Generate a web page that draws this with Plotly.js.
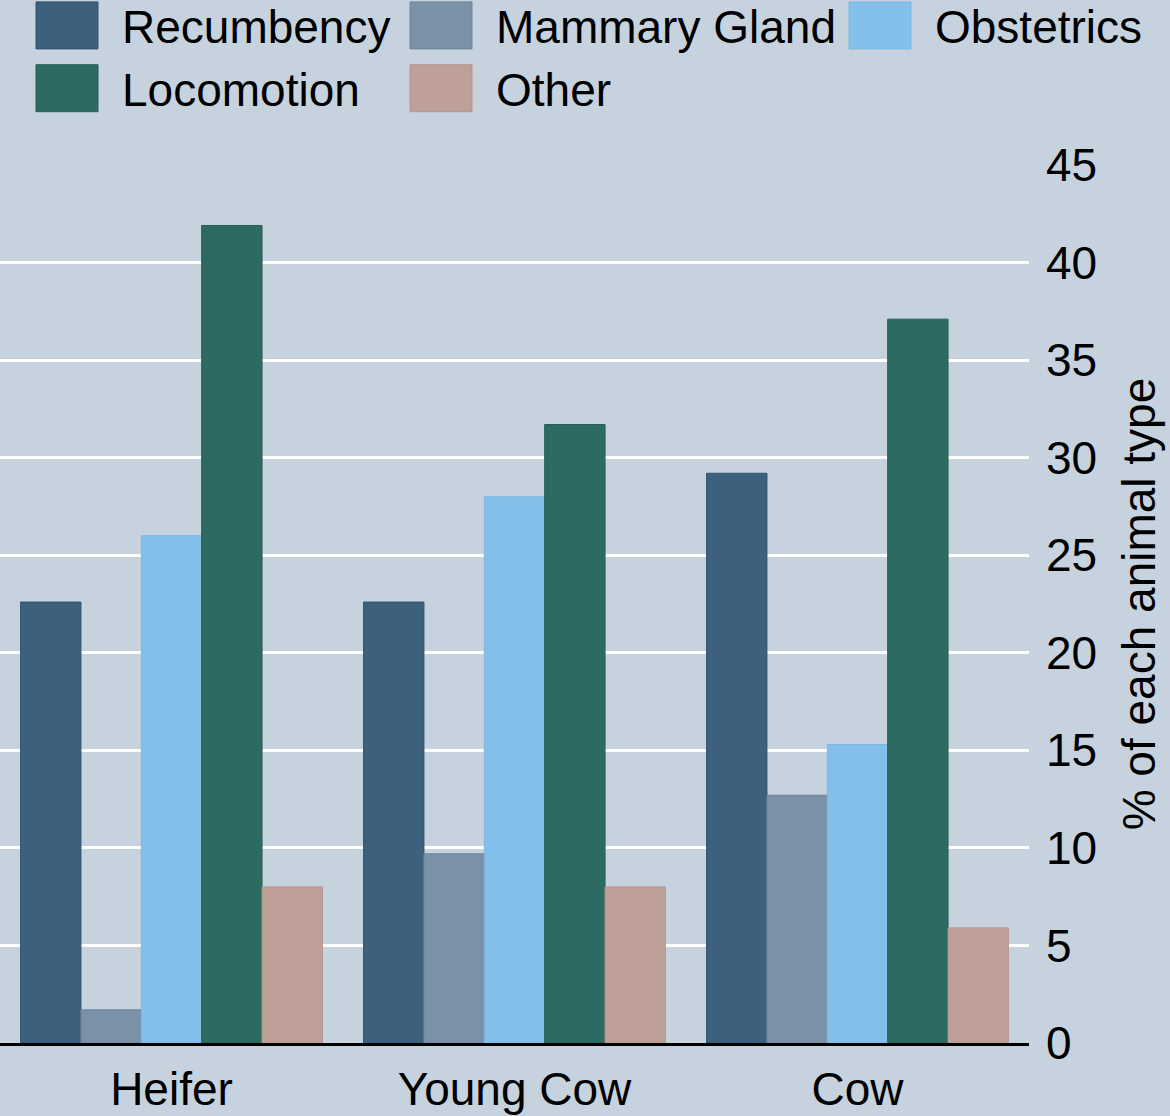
<!DOCTYPE html>
<html>
<head>
<meta charset="utf-8">
<script src="https://cdn.plot.ly/plotly-3.0.1.min.js"></script>
<style>
    html, body { margin: 0; padding: 0; background: #c6d3df; }
    #chart { width: 1170px; height: 1116px; }
</style>
</head>
<body>
<div id="chart"></div>
<script>
"use strict";

// values (% of each animal type)
let animalTypes = ["Heifer", "Young Cow", "Cow"];
let recumbency = [22.6, 22.6, 29.2];
let mammaryGland = [1.7, 9.7, 12.7];
let obstetrics = [26.0, 28.0, 15.3];
let locomotion = [41.9, 31.7, 37.1];
let other = [8.0, 8.0, 5.9];
let yTicks = [0, 5, 10, 15, 20, 25, 30, 35, 40, 45];

let FONT = "Arial, 'Liberation Sans', sans-serif";
let BG = "#c6d3df";
let PLOT_W = 1029, PLOT_H = 878, PLOT_BOTTOM = 1043;

function getBar(name, values, color, lineColor, legendId) {
    return {
        type: "bar",
        name: name,
        x: animalTypes,
        y: values,
        marker: {color: color, line: {color: lineColor, width: 1}},
        legend: legendId,
        hoverinfo: "none"
    };
}

let data = [
    getBar("Recumbency", recumbency, "#3d617c", "#2f5370", "legend"),
    getBar("Mammary Gland", mammaryGland, "#7b91a8", "#6f859d", "legend2"),
    getBar("Obstetrics", obstetrics, "#83bfe9", "#7db8e2", "legend3"),
    getBar("Locomotion", locomotion, "#2d6b62", "#245f56", "legend"),
    getBar("Other", other, "#bfa098", "#b5968e", "legend2")
];

// legend columns placed in pixels, converted to paper units
function getLegend(left) {
    return {
        x: left / PLOT_W, xanchor: "left",
        y: (PLOT_BOTTOM + 11) / PLOT_H, yanchor: "top",
        orientation: "v",
        bgcolor: "rgba(0,0,0,0)",
        borderwidth: 0,
        itemwidth: 100,
        font: {family: FONT, size: 46, color: "#000"}
    };
}

let layout = {
    width: 1170,
    height: 1116,
    paper_bgcolor: BG,
    plot_bgcolor: BG,
    margin: {l: 0, r: 141, t: 165, b: 73, autoexpand: false},
    barmode: "group",
    bargap: 0.12,
    bargroupgap: 0,
    font: {family: FONT, size: 46, color: "#000"},
    showlegend: true,
    legend: getLegend(12),
    legend2: getLegend(386),
    legend3: getLegend(825),
    xaxis: {
        type: "category",
        range: [-0.5, 2.5],
        showgrid: false,
        showline: true,
        linecolor: "#000",
        linewidth: 3,
        ticks: "",
        ticklabelstandoff: 4,
        tickfont: {family: FONT, size: 46, color: "#000"}
    },
    yaxis: {
        side: "right",
        range: [0, 45],
        tickvals: yTicks,
        showgrid: true,
        gridcolor: "#ffffff",
        gridwidth: 3,
        zeroline: false,
        showline: false,
        ticks: "",
        ticklabelstandoff: 16,
        tickfont: {family: FONT, size: 46, color: "#000"},
        title: {text: "% of each animal type", standoff: 26, font: {family: FONT, size: 46, color: "#000"}},
        automargin: true
    }
};

// the original uses large rectangular swatches in its legend
function bigSwatches() {
    document.querySelectorAll("#chart g.legendpoints path").forEach(function (p) {
        p.setAttribute("d", "M31,23.5H-31V-23.5H31Z");
    });
}

Plotly.newPlot("chart", data, layout, {staticPlot: true}).then(function (gd) {
    gd.on("plotly_afterplot", bigSwatches);
    bigSwatches();
}, function (err) {
    console.error(err);
});
</script>
</body>
</html>
